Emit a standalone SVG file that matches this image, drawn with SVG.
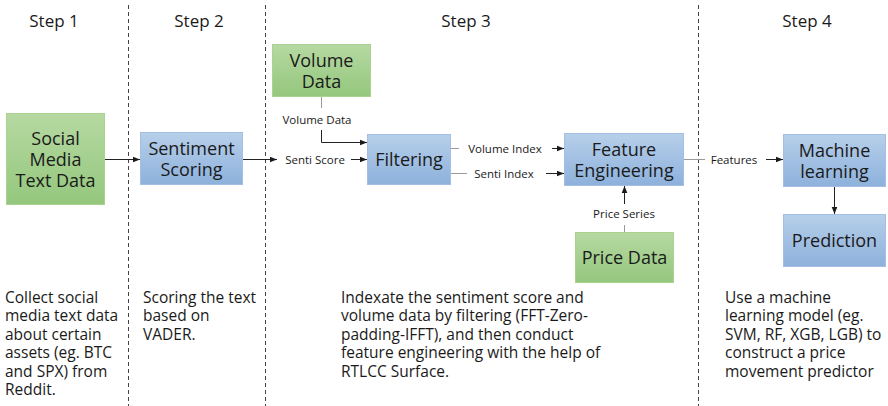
<svg xmlns="http://www.w3.org/2000/svg" width="888" height="406" viewBox="0 0 888 406">
<defs>
<linearGradient id="gBlue" x1="0" y1="0" x2="0" y2="1"><stop offset="0" stop-color="#b7cfea"/><stop offset="1" stop-color="#8db1dc"/></linearGradient>
<linearGradient id="gGreen" x1="0" y1="0" x2="0" y2="1"><stop offset="0" stop-color="#b6d9a2"/><stop offset="1" stop-color="#94c77d"/></linearGradient>
<marker id="arr" viewBox="0 0 10 10" refX="10" refY="5" markerWidth="7" markerHeight="7" markerUnits="userSpaceOnUse" orient="auto"><path d="M0,1 L10,5 L0,9 Z" fill="#1a1a1a"/></marker>
<style>
text{font-family:"Open Sans","Noto Sans",sans-serif;fill:#1a1a1a}
.step{font-size:17px;text-anchor:middle}
.box{font-size:18px;text-anchor:middle}
.lbl{font-size:11.5px;text-anchor:middle}
.desc{font-size:15.5px}
.blue{fill:url(#gBlue);stroke:#a3c0e4;stroke-width:1}
.green{fill:url(#gGreen);stroke:#aad291;stroke-width:1}
.div{stroke:#444;stroke-width:1;stroke-dasharray:4,3;fill:none}
.c{stroke:#222;stroke-width:1;fill:none}
.cg{stroke:#9a9a9a;stroke-width:1;fill:none}
.ca{stroke:#222;stroke-width:1;fill:none;marker-end:url(#arr)}
</style>
</defs>
<rect width="888" height="406" fill="#fff"/>
<g id="dividers">
<line class="div" x1="128.5" y1="5" x2="128.5" y2="406"/>
<line class="div" x1="265.5" y1="5" x2="265.5" y2="406"/>
<line class="div" x1="698.5" y1="5" x2="698.5" y2="406"/>
</g>
<g id="steps">
<text class="step" x="54" y="27">Step 1</text>
<text class="step" x="199" y="27">Step 2</text>
<text class="step" x="466" y="27">Step 3</text>
<text class="step" x="807" y="27">Step 4</text>
</g>
<g id="connectors">
<line class="ca" x1="105" y1="159.5" x2="140" y2="159.5"/>
<line class="ca" x1="243" y1="159.5" x2="277" y2="159.5"/>
<line class="ca" x1="351" y1="159.5" x2="367" y2="159.5"/>
<line class="cg" x1="321.5" y1="97" x2="321.5" y2="108"/>
<polyline class="ca" points="321.5,130 321.5,142.5 367,142.5"/>
<line class="cg" x1="451" y1="148.5" x2="459" y2="148.5"/>
<line class="ca" x1="552" y1="148.5" x2="564" y2="148.5"/>
<line class="cg" x1="451" y1="173.5" x2="467" y2="173.5"/>
<line class="ca" x1="546" y1="173.5" x2="564" y2="173.5"/>
<line class="cg" x1="624.5" y1="232" x2="624.5" y2="225"/>
<line class="ca" x1="624.5" y1="204" x2="624.5" y2="186"/>
<line class="cg" x1="684" y1="159.5" x2="705" y2="159.5"/>
<line class="ca" x1="766" y1="159.5" x2="783" y2="159.5"/>
<line class="ca" x1="834.5" y1="187" x2="834.5" y2="214"/>
<text class="lbl" x="315" y="163.5">Senti Score</text>
<text class="lbl" x="317" y="123.5">Volume Data</text>
<text class="lbl" x="505" y="152.5">Volume Index</text>
<text class="lbl" x="504" y="177.5">Senti Index</text>
<text class="lbl" x="624" y="217.5">Price Series</text>
<text class="lbl" x="734" y="163.5">Features</text>
</g>
<g id="social">
<rect class="green" x="6.5" y="113.5" width="98" height="91"/>
<text class="box" x="55.5" y="144.5">Social</text>
<text class="box" x="55.5" y="165.5">Media</text>
<text class="box" x="55.5" y="186.5">Text Data</text>
</g>
<g id="sentiment">
<rect class="blue" x="140.5" y="132.5" width="102" height="52"/>
<text class="box" x="191.5" y="154.5">Sentiment</text>
<text class="box" x="191.5" y="175.5">Scoring</text>
</g>
<g id="volume">
<rect class="green" x="272.5" y="44.5" width="98" height="52"/>
<text class="box" x="321.5" y="66.5">Volume</text>
<text class="box" x="321.5" y="87.5">Data</text>
</g>
<g id="filtering">
<rect class="blue" x="367.5" y="134.5" width="83" height="50"/>
<text class="box" x="409" y="166">Filtering</text>
</g>
<g id="feature">
<rect class="blue" x="564.5" y="133.5" width="119" height="52"/>
<text class="box" x="624" y="155.5">Feature</text>
<text class="box" x="624" y="176.5">Engineering</text>
</g>
<g id="price">
<rect class="green" x="575.5" y="232.5" width="98" height="50"/>
<text class="box" x="624.5" y="264">Price Data</text>
</g>
<g id="ml">
<rect class="blue" x="783.5" y="134.5" width="102" height="52"/>
<text class="box" x="834.5" y="156.5">Machine</text>
<text class="box" x="834.5" y="177.5">learning</text>
</g>
<g id="prediction">
<rect class="blue" x="783.5" y="214.5" width="102" height="52"/>
<text class="box" x="834.5" y="247">Prediction</text>
</g>
<g id="descriptions">
<text class="desc"><tspan x="5" y="303">Collect social</tspan><tspan x="5" y="321">media text data</tspan><tspan x="5" y="340">about certain</tspan><tspan x="5" y="358">assets (eg. BTC</tspan><tspan x="5" y="377">and SPX) from</tspan><tspan x="5" y="395">Reddit.</tspan></text>
<text class="desc"><tspan x="143" y="303">Scoring the text</tspan><tspan x="143" y="321">based on</tspan><tspan x="143" y="340">VADER.</tspan></text>
<text class="desc"><tspan x="341" y="303">Indexate the sentiment score and</tspan><tspan x="341" y="321">volume data by filtering (FFT-Zero-</tspan><tspan x="341" y="340">padding-IFFT), and then conduct</tspan><tspan x="341" y="358">feature engineering with the help of</tspan><tspan x="341" y="377">RTLCC Surface.</tspan></text>
<text class="desc"><tspan x="725" y="303">Use a machine</tspan><tspan x="725" y="321">learning model (eg.</tspan><tspan x="725" y="340">SVM, RF, XGB, LGB) to</tspan><tspan x="725" y="358">construct a price</tspan><tspan x="725" y="377">movement predictor</tspan></text>
</g>
</svg>
